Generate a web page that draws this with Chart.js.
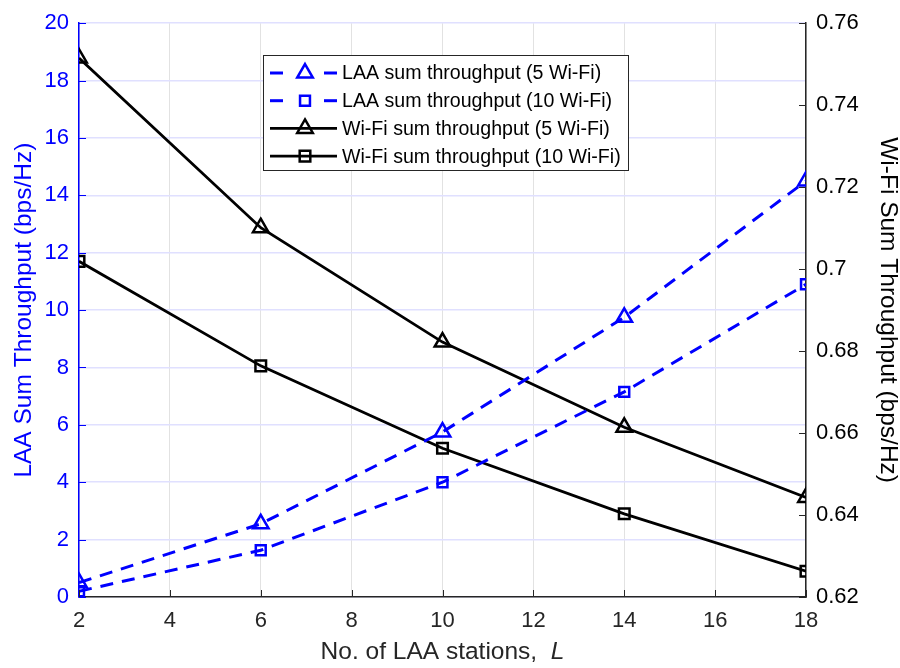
<!DOCTYPE html>
<html>
<head>
<meta charset="utf-8">
<script src="https://cdn.jsdelivr.net/npm/chart.js@4"></script>
<style>
  html, body { margin: 0; padding: 0; background: #fff; }
  #wrap { width: 900px; height: 668px; }
</style>
</head>
<body>
<div id="wrap"><canvas id="c" width="900" height="668"></canvas></div>
<script>
// Data
const stations = [2, 6, 10, 14, 18];
const laa5 = [0.5, 2.55, 5.75, 9.75, 14.5];
const laa10 = [0.2, 1.63, 4.0, 7.15, 10.9];
const wifi5 = [0.7515, 0.7101, 0.6822, 0.6614, 0.6443];
const wifi10 = [0.7019, 0.6764, 0.6563, 0.6403, 0.6263];

const xTicks = [2, 4, 6, 8, 10, 12, 14, 16, 18];
const leftTicks = [0, 2, 4, 6, 8, 10, 12, 14, 16, 18, 20];
const rightTicks = [0.62, 0.64, 0.66, 0.68, 0.7, 0.72, 0.74, 0.76];

const BLUE = '#0000ff';
const FONT = '"Liberation Sans", Arial, Helvetica, sans-serif';

const toPoints = ys => stations.map((x, i) => ({ x: x, y: ys[i] }));

const seriesList = [
    { label: 'LAA sum throughput (5 Wi-Fi)', data: laa5, color: BLUE, dash: [13, 9], style: 'triangle', r: 9, width: 3, axis: 'yL' },
    { label: 'LAA sum throughput (10 Wi-Fi)', data: laa10, color: BLUE, dash: [13, 9], style: 'rect', r: 7, width: 3, axis: 'yL' },
    { label: 'Wi-Fi sum throughput (5 Wi-Fi)', data: wifi5, color: '#000', dash: [], style: 'triangle', r: 9, width: 2.8, axis: 'yR' },
    { label: 'Wi-Fi sum throughput (10 Wi-Fi)', data: wifi10, color: '#000', dash: [], style: 'rect', r: 7.5, width: 2.8, axis: 'yR' }
];

// inward tick marks like the original plot
const inwardTicks = {
    id: 'inwardTicks',
    afterDatasetsDraw(chart) {
        const { ctx, chartArea: a, scales } = chart;
        ctx.save();
        ctx.lineWidth = 1;
        ctx.strokeStyle = '#262626';
        xTicks.forEach(v => {
            const x = Math.round(scales.x.getPixelForValue(v)) + 0.5;
            ctx.beginPath(); ctx.moveTo(x, a.bottom); ctx.lineTo(x, a.bottom - 7); ctx.stroke();
        });
        ctx.strokeStyle = BLUE;
        leftTicks.forEach(v => {
            const y = Math.round(scales.yL.getPixelForValue(v)) + 0.5;
            ctx.beginPath(); ctx.moveTo(a.left, y); ctx.lineTo(a.left + 7, y); ctx.stroke();
        });
        ctx.strokeStyle = '#262626';
        rightTicks.forEach(v => {
            const y = Math.round(scales.yR.getPixelForValue(v)) + 0.5;
            ctx.beginPath(); ctx.moveTo(a.right, y); ctx.lineTo(a.right - 7, y); ctx.stroke();
        });
        ctx.restore();
    }
};

// x axis title with an italic L
const xTitle = {
    id: 'xTitle',
    afterDraw(chart) {
        const ctx = chart.ctx;
        const a = chart.chartArea;
        const plain = 'No. of LAA stations,  ';
        ctx.save();
        ctx.fillStyle = '#262626';
        ctx.textBaseline = 'middle';
        ctx.font = '24.5px ' + FONT;
        const w1 = ctx.measureText(plain).width;
        ctx.font = 'italic 24.5px ' + FONT;
        const w2 = ctx.measureText('L').width;
        let x = (a.left + a.right) / 2 - (w1 + w2) / 2;
        ctx.font = '24.5px ' + FONT;
        ctx.fillText(plain, x, 652);
        ctx.font = 'italic 24.5px ' + FONT;
        ctx.fillText('L', x + w1, 652);
        ctx.restore();
    }
};

// legend box with line + marker samples
const lineLegend = {
    id: 'lineLegend',
    afterDraw(chart) {
        const ctx = chart.ctx;
        const bx = 263, by = 55, bw = 365, bh = 115;
        ctx.save();
        ctx.fillStyle = '#fff';
        ctx.fillRect(bx, by, bw, bh);
        ctx.strokeStyle = '#262626';
        ctx.lineWidth = 1;
        ctx.strokeRect(bx + 0.5, by + 0.5, bw, bh);
        seriesList.forEach((s, i) => {
            const y = by + 18 + i * 27.7;
            ctx.strokeStyle = s.color;
            ctx.lineWidth = s.width;
            ctx.setLineDash([]);
            if (s.dash.length) {
                ctx.beginPath(); ctx.moveTo(270, y); ctx.lineTo(283, y); ctx.stroke();
                ctx.beginPath(); ctx.moveTo(324, y); ctx.lineTo(337, y); ctx.stroke();
            } else {
                ctx.beginPath(); ctx.moveTo(270, y); ctx.lineTo(337, y); ctx.stroke();
            }
            ctx.fillStyle = s.dash.length ? '#fff' : 'rgba(255,255,255,0)';
            ctx.lineWidth = 2.5;
            Chart.helpers.drawPoint(ctx, {
                pointStyle: s.style, radius: s.r, rotation: 0, borderWidth: 2.5
            }, 305, y);
            ctx.fillStyle = '#000';
            ctx.font = '19.6px ' + FONT;
            ctx.textBaseline = 'middle';
            ctx.fillText(s.label, 342, y + 1);
        });
        ctx.restore();
    }
};

new Chart(document.getElementById('c'), {
    type: 'line',
    data: {
        datasets: seriesList.map(s => ({
            label: s.label,
            data: toPoints(s.data),
            yAxisID: s.axis,
            borderColor: s.color,
            borderWidth: s.width,
            borderDash: s.dash,
            pointStyle: s.style,
            pointRadius: s.r,
            pointBorderWidth: 2.5,
            pointBorderColor: s.color,
            pointBackgroundColor: 'rgba(0,0,0,0)',
            tension: 0,
            fill: false,
            clip: 0
        }))
    },
    options: {
        responsive: false,
        animation: false,
        layout: { padding: { top: 19, left: 0, right: 0, bottom: 0 } },
        plugins: { legend: { display: false }, tooltip: { enabled: false } },
        scales: {
            x: {
                type: 'linear', min: 2, max: 18,
                afterBuildTicks: sc => { sc.ticks = xTicks.map(v => ({ value: v })); },
                afterFit: sc => { sc.height = 71; },
                grid: { color: '#e2e2e2', drawTicks: false, lineWidth: 1 },
                border: { color: '#262626', width: 1.5 },
                ticks: { color: '#262626', font: { family: FONT, size: 22 }, padding: 11, maxRotation: 0 },
                title: { display: false }
            },
            yL: {
                position: 'left', min: 0, max: 20,
                afterBuildTicks: sc => { sc.ticks = leftTicks.map(v => ({ value: v })); },
                afterFit: sc => { sc.width = 79; },
                grid: { color: '#e0e0ff', drawTicks: false, lineWidth: 1.5 },
                border: { color: BLUE, width: 1.5 },
                ticks: { color: BLUE, font: { family: FONT, size: 22 }, padding: 10 },
                title: { display: true, text: 'LAA Sum Throughput (bps/Hz)', color: BLUE, font: { family: FONT, size: 24.5, lineHeight: 1 }, padding: { top: 12, bottom: 0 } }
            },
            yR: {
                position: 'right', min: 0.62, max: 0.76,
                afterBuildTicks: sc => { sc.ticks = rightTicks.map(v => ({ value: v })); },
                afterFit: sc => { sc.width = 94; },
                grid: { display: false, drawTicks: false },
                border: { color: '#262626', width: 1.5 },
                ticks: { color: '#000', font: { family: FONT, size: 22 }, padding: 10, callback: v => String(+v.toFixed(2)) },
                title: { display: true, text: 'Wi-Fi Sum Throughput (bps/Hz)', color: '#000', font: { family: FONT, size: 24.5, lineHeight: 1 }, padding: { top: 0, bottom: 0 } }
            }
        }
    },
    plugins: [inwardTicks, lineLegend, xTitle]
});
</script>
</body>
</html>
